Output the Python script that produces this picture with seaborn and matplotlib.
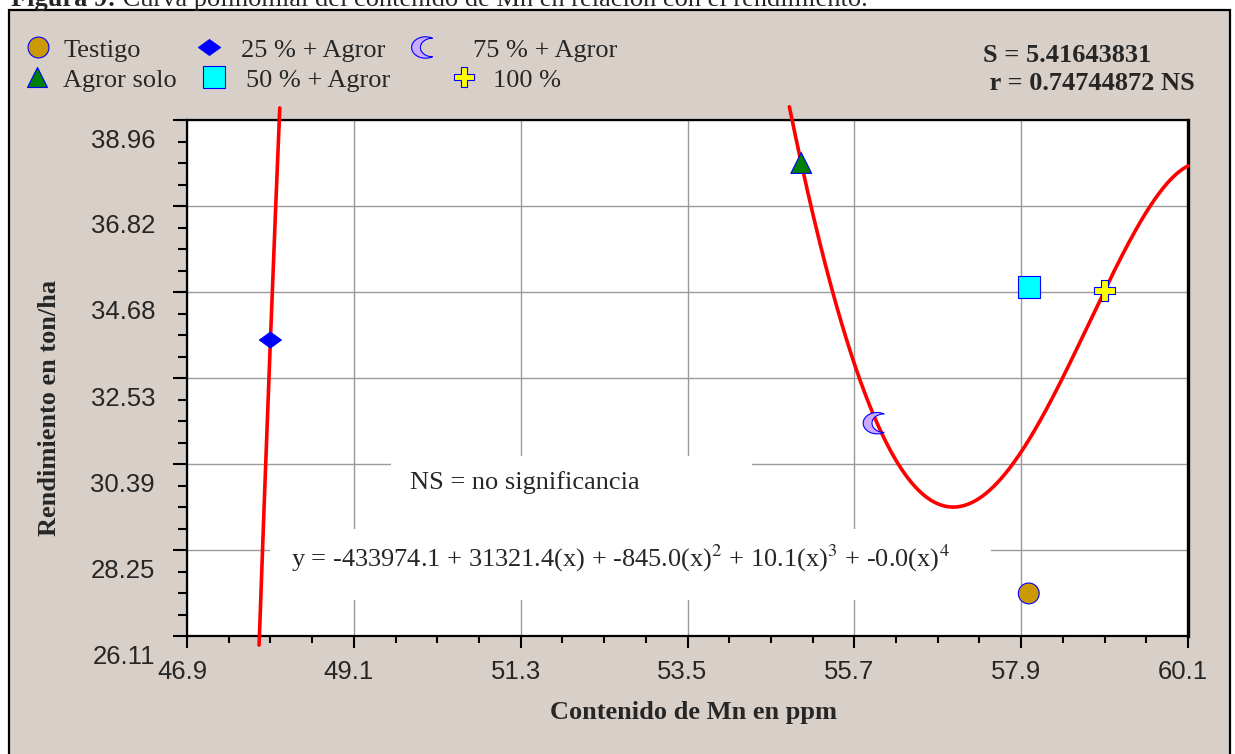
import numpy as np
import pandas as pd
import matplotlib
matplotlib.use("Agg")
import matplotlib.pyplot as plt
import matplotlib.transforms as mtransforms
from matplotlib.path import Path
from matplotlib.lines import Line2D
from matplotlib.patches import Rectangle
from matplotlib.ticker import AutoMinorLocator, FixedLocator
import seaborn as sns

# ---------------- data ----------------
treatments = ["Testigo", "Agror solo", "25 % + Agror", "50 % + Agror", "75 % + Agror", "100 %"]
mn_ppm = [58.0, 55.0, 48.0, 58.0, 56.0, 59.0]
yield_t = [27.17, 37.89, 33.48, 34.81, 31.41, 34.71]

x_tick_labels = ["46.9", "49.1", "51.3", "53.5", "55.7", "57.9", "60.1"]
y_tick_labels = ["26.11", "28.25", "30.39", "32.53", "34.68", "36.82", "38.96"]

stat_lines = ["S = 5.41643831", " r = 0.74744872 NS"]
ns_note = "NS = no significancia"
equation = (r"y = -433974.1 + 31321.4(x) + -845.0(x)$^{2}$ + 10.1(x)$^{3}$"
            r" + -0.0(x)$^{4}$")
caption_bold = "Figura 9:"
caption_rest = " Curva polinomial del contenido de Mn en relación con el rendimiento."
x_label = "Contenido de Mn en ppm"
y_label = "Rendimiento en ton/ha"

# ---------------- styles ----------------
W, H = 1235, 754
sns.set_style("white")
plt.rcParams["font.family"] = ["Liberation Serif", "DejaVu Serif"]
plt.rcParams["mathtext.fontset"] = "stix"

# crescent marker
a = np.radians(60)
th1 = np.linspace(a, 2 * np.pi - a, 50)
outer = np.column_stack([np.cos(th1), np.sin(th1)])
cx = 0.5
r2 = np.hypot(np.cos(a) - cx, np.sin(a))
b = np.arctan2(-np.sin(a), np.cos(a) - cx)
th2 = np.linspace(2 * np.pi + b, -b, 50)
inner = np.column_stack([cx + r2 * np.cos(th2), r2 * np.sin(th2)])
mverts = np.vstack([outer, inner, outer[:1]]) * np.array([1.3, 1.0])
moon = Path(mverts, [Path.MOVETO] + [Path.LINETO] * (len(mverts) - 2) + [Path.CLOSEPOLY])

diamond = Path([(0, 0.72), (1, 0), (0, -0.72), (-1, 0), (0, 0.72)],
               [Path.MOVETO, Path.LINETO, Path.LINETO, Path.LINETO, Path.CLOSEPOLY])

markers = {"Testigo": "o", "Agror solo": "^", "25 % + Agror": diamond,
           "50 % + Agror": "s", "75 % + Agror": moon, "100 %": "P"}
palette = {"Testigo": "#CC9900", "Agror solo": "#008000", "25 % + Agror": "#0000FF",
           "50 % + Agror": "#00FFFF", "75 % + Agror": "#CCAAFF", "100 %": "#FFFF00"}
sizes = {"Testigo": 225, "Agror solo": 225, "25 % + Agror": 250,
         "50 % + Agror": 250, "75 % + Agror": 400, "100 %": 215}

df = pd.DataFrame({"Tratamiento": treatments, "Mn": mn_ppm, "Rendimiento": yield_t})

# ---------------- figure ----------------
fig = plt.figure(figsize=(W / 100, H / 100), dpi=100, facecolor="white")
fig.add_artist(Rectangle((9 / W, -0.02), (1230 - 9) / W, (H - 10) / H + 0.02,
                         transform=fig.transFigure, facecolor="#D8CFC9",
                         edgecolor="black", lw=1.6, zorder=0))

ax = fig.add_axes([187 / W, (H - 636) / H, 1001 / W, 516 / H])
ax.set_facecolor("white")
ax.set_axisbelow(True)

x_ticks = [float(v) for v in x_tick_labels]
y_ticks = [float(v) for v in y_tick_labels]
ax.set_xlim(x_ticks[0], x_ticks[-1])
ax.set_ylim(y_ticks[0], y_ticks[-1])
ax.xaxis.set_major_locator(FixedLocator(x_ticks))
ax.yaxis.set_major_locator(FixedLocator(y_ticks))
ax.set_xticklabels(x_tick_labels)
ax.set_yticklabels(y_tick_labels)
ax.xaxis.set_minor_locator(AutoMinorLocator(4))
ax.yaxis.set_minor_locator(AutoMinorLocator(4))
ax.grid(True, which="major", color="#9a9a9a", lw=1.0)

ax.tick_params(axis="both", which="both", direction="out", color="black",
               bottom=True, left=True, top=False, right=False)
ax.tick_params(axis="x", which="major", length=8.6, width=1.5, pad=9,
               labelsize=18.5, labelfontfamily="Liberation Sans")
ax.tick_params(axis="x", which="minor", length=5, width=1.5)
ax.tick_params(axis="y", which="major", length=10, width=1.5, pad=13,
               labelsize=18.5, labelfontfamily="Liberation Sans")
ax.tick_params(axis="y", which="minor", length=6.5, width=1.5)
for s in ax.spines.values():
    s.set_color("black")
    s.set_linewidth(1.6)
ax.spines["right"].set_linewidth(2.4)

# tick label offsets as in the reference
yoff = mtransforms.ScaledTranslation(0, -0.18, fig.dpi_scale_trans)
for lab in ax.get_yticklabels():
    lab.set_transform(lab.get_transform() + yoff)
xoff = mtransforms.ScaledTranslation(-0.05, 0, fig.dpi_scale_trans)
for lab in ax.get_xticklabels():
    lab.set_transform(lab.get_transform() + xoff)

# white boxes behind the annotations (cover the grid)
ax.add_patch(Rectangle((0.2038, 0.2074), 0.5644 - 0.2038, 0.3488 - 0.2074,
                       transform=ax.transAxes, facecolor="white", edgecolor="none", zorder=1))
ax.add_patch(Rectangle((0.0829, 0.0698), 0.8032 - 0.0829, 0.2074 - 0.0698,
                       transform=ax.transAxes, facecolor="white", edgecolor="none", zorder=1))
ax.text(0.3377, 0.2965, ns_note, transform=ax.transAxes, ha="center", va="center",
        fontsize=19, zorder=2)
ax.text(0.1039, 0.1512, equation, transform=ax.transAxes, ha="left", va="center",
        fontsize=19, zorder=2)

# 4th-order polynomial fit of the data
xarr = np.array(mn_ppm)
coef = np.polyfit(xarr - 53.5, np.array(yield_t), 4)
xs = np.linspace(x_ticks[0], x_ticks[-1], 6000)
ys = np.polyval(coef, xs - 53.5)
ys = np.where((ys >= 25.79) & (ys <= 39.3), ys, np.nan)
ax.plot(xs, ys, color="#FF0000", lw=2.6, clip_on=False, zorder=3)

# points
sns.scatterplot(data=df, x="Mn", y="Rendimiento", hue="Tratamiento", style="Tratamiento",
                size="Tratamiento", palette=palette, markers=markers, sizes=sizes,
                edgecolor="#0000FF", linewidth=0.8, legend=False, ax=ax, zorder=4,
                clip_on=False)

ax.set_xlabel(x_label, fontsize=19, fontweight="bold", va="center")
ax.xaxis.set_label_coords(0.5055, (636 - 713) / 516)
ax.set_ylabel(y_label, fontsize=19, fontweight="bold", va="center")
ax.yaxis.set_label_coords((50 - 187) / 1001, (636 - 408) / 516)

# legend entries, placed like the reference
fs = 19
fs_px = fs * 100 / 72
hl = 1.0
legend_layout = {
    "Testigo": (38, 64, 50),
    "25 % + Agror": (209, 241, 50),
    "75 % + Agror": (425, 473, 50),
    "Agror solo": (37, 63, 80),
    "50 % + Agror": (214, 246, 80),
    "100 %": (464, 493, 80),
}
for name, (mx, tx, my) in legend_layout.items():
    h = Line2D([], [], ls="none", marker=markers[name], markersize=np.sqrt(sizes[name]),
               markerfacecolor=palette[name], markeredgecolor="#0000FF", markeredgewidth=0.8)
    pad = (tx - mx - hl * fs_px / 2) / fs_px
    fig.legend(handles=[h], labels=[name], loc="center left",
               bbox_to_anchor=((mx - hl * fs_px / 2) / W, 1 - my / H),
               frameon=False, borderpad=0, borderaxespad=0, handlelength=hl,
               handletextpad=pad, prop={"family": "Liberation Serif", "size": fs})

fig.text(983 / W, 1 - 55 / H, stat_lines[0], fontsize=19, fontweight="bold", va="center")
fig.text(983 / W, 1 - 83 / H, stat_lines[1], fontsize=19, fontweight="bold", va="center")

# caption (cut at the top as in the reference)
t1 = fig.text(11 / W, 1 - 6 / H, caption_bold, fontsize=19, fontweight="bold", va="baseline")
fig.canvas.draw()
bb = t1.get_window_extent()
fig.text(bb.x1 / W, 1 - 6 / H, caption_rest, fontsize=19, va="baseline")

fig.savefig("out.png", dpi=100)
